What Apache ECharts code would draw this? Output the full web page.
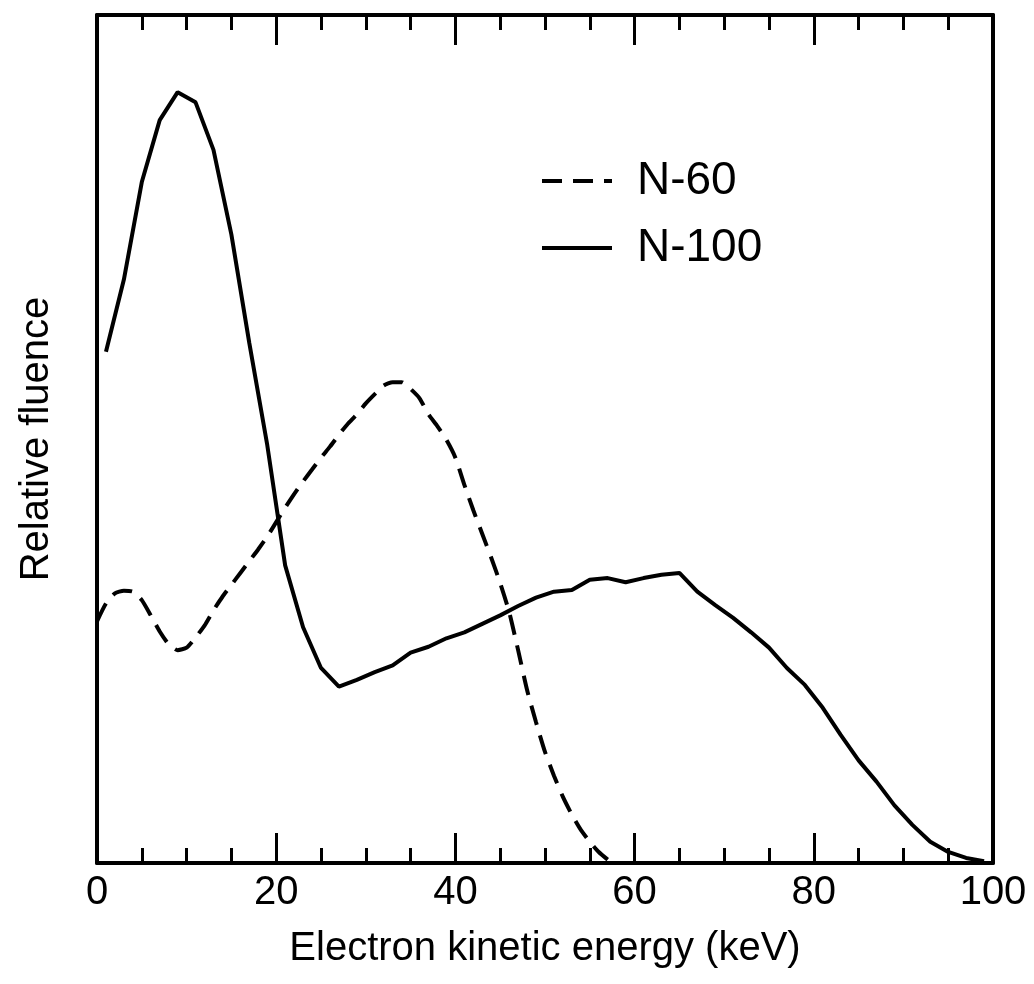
<!DOCTYPE html>
<html>
<head>
<meta charset="utf-8">
<script src="https://cdn.jsdelivr.net/npm/echarts@6/dist/echarts.min.js"></script>
<style>
  html, body { margin: 0; padding: 0; background: #fff; }
  #main { width: 1034px; height: 984px; }
</style>
</head>
<body>
<div id="main"></div>
<script>
// energies (keV) and relative fluence
const n100Energy = [1, 3, 5, 7, 9, 11, 13, 15, 17, 19, 21, 23, 25, 27, 29, 31, 33, 35, 37, 39,
  41, 43, 45, 47, 49, 51, 53, 55, 57, 59, 61, 63, 65, 67, 69, 71, 73, 75, 77, 79,
  81, 83, 85, 87, 89, 91, 93, 95, 97, 99];
const n100Fluence = [60.3, 68.8, 80.3, 87.6, 90.9, 89.7, 84.1, 74.1, 61.3, 49.3, 35.1, 27.8, 23.0, 20.8, 21.6, 22.5, 23.3, 24.8, 25.5, 26.5,
  27.2, 28.2, 29.2, 30.3, 31.3, 32.0, 32.2, 33.4, 33.6, 33.1, 33.6, 34.0, 34.2, 32.0, 30.4, 28.9, 27.2, 25.4, 23.0, 21.0,
  18.3, 15.1, 12.1, 9.6, 6.8, 4.5, 2.5, 1.3, 0.6, 0.2];

const n60Energy = [0, 1, 2, 3, 4, 5, 6, 7, 8, 9, 10, 11, 12, 13, 14, 15, 16, 17, 18, 19,
  20, 21, 22, 23, 24, 25, 26, 27, 28, 29, 30, 31, 32, 33, 34, 35, 36, 37, 38, 39,
  40, 41, 42, 43, 44, 45, 46, 47, 48, 49, 50, 51, 52, 53, 54, 55, 56, 57];
const n60Fluence = [28.5, 30.6, 31.8, 32.1, 32.0, 31.0, 29.2, 27.3, 25.8, 25.1, 25.4, 26.6, 28.0, 29.8, 31.4, 32.8, 34.2, 35.6, 37.0, 38.5,
  40.2, 41.9, 43.5, 45.0, 46.4, 47.8, 49.1, 50.5, 51.8, 52.9, 54.2, 55.3, 56.3, 56.7, 56.7, 55.9, 54.8, 52.9, 51.5, 49.9,
  47.8, 44.6, 41.6, 38.8, 36.0, 33.0, 29.6, 25.1, 20.4, 16.6, 13.1, 10.3, 7.8, 5.7, 3.9, 2.5, 1.3, 0.4];

const xMin = 0, xMax = 100, xStep = 20;

function pairs(xs, ys) {
  return xs.map((x, i) => [x, ys[i]]);
}

const font = "Liberation Sans, Arial, Helvetica, sans-serif";
const black = "#000";

function frameLine() {
  return { show: true, onZero: false, lineStyle: { color: black, width: 4 } };
}
function majorTick() {
  return { show: true, inside: true, length: 30, lineStyle: { color: black, width: 3 } };
}
function minorTick() {
  return { show: true, splitNumber: 4, length: 15, lineStyle: { color: black, width: 3 } };
}

let myChart = echarts.init(document.getElementById("main"));

let option = {
  animation: false,
  grid: { left: 97, right: 41, top: 15, bottom: 121, containLabel: false },
  legend: {
    orient: "vertical",
    left: 540,
    top: 158,
    padding: 0,
    itemWidth: 70,
    itemHeight: 20,
    itemGap: 21,
    itemStyle: { opacity: 0 },
    lineStyle: { width: 4 },
    textStyle: { fontFamily: font, fontSize: 46, color: black, padding: [0, 0, 0, 20] },
    data: ["N-60", "N-100"],
  },
  xAxis: [
    {
      type: "value",
      min: xMin,
      max: xMax,
      interval: xStep,
      position: "bottom",
      name: "Electron kinetic energy (keV)",
      nameLocation: "middle",
      nameGap: 66,
      nameTextStyle: { fontFamily: font, fontSize: 40, color: black },
      axisLine: frameLine(),
      axisTick: majorTick(),
      minorTick: minorTick(),
      axisLabel: { fontFamily: font, fontSize: 40, color: black, margin: 10 },
      splitLine: { show: false },
    },
    {
      // top frame, ticks only
      type: "value",
      min: xMin,
      max: xMax,
      interval: xStep,
      position: "top",
      axisLine: frameLine(),
      axisTick: majorTick(),
      minorTick: minorTick(),
      axisLabel: { show: false },
      splitLine: { show: false },
    },
  ],
  yAxis: [
    {
      type: "value",
      min: 0,
      max: 100,
      position: "left",
      name: "Relative fluence",
      nameLocation: "middle",
      nameGap: 40,
      nameTextStyle: { fontFamily: font, fontSize: 40, color: black },
      axisLine: frameLine(),
      axisTick: { show: false },
      axisLabel: { show: false },
      splitLine: { show: false },
    },
    {
      type: "value",
      min: 0,
      max: 100,
      position: "right",
      axisLine: frameLine(),
      axisTick: { show: false },
      axisLabel: { show: false },
      splitLine: { show: false },
    },
  ],
  series: [
    {
      name: "N-60",
      type: "line",
      symbol: "none",
      smooth: 0.2,
      lineStyle: { color: black, width: 4, type: [20, 11] },
      itemStyle: { color: black },
      data: pairs(n60Energy, n60Fluence),
    },
    {
      name: "N-100",
      type: "line",
      symbol: "none",
      lineStyle: { color: black, width: 4 },
      itemStyle: { color: black },
      data: pairs(n100Energy, n100Fluence),
    },
  ],
};
myChart.setOption(option);
</script>
</body>
</html>
